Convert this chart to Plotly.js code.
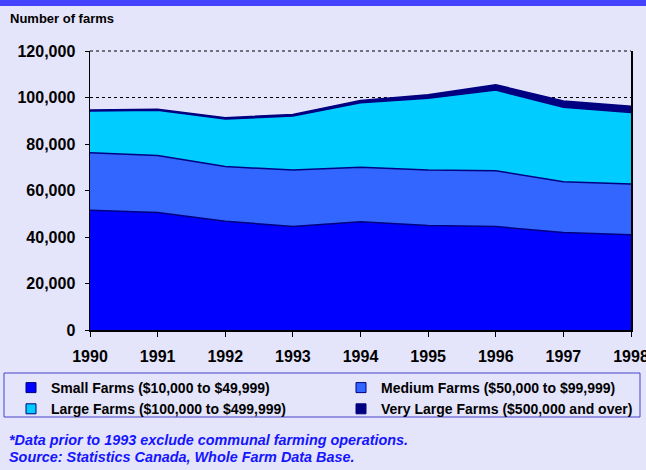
<!DOCTYPE html>
<html><head><meta charset="utf-8">
<script src="https://cdn.plot.ly/plotly-3.0.1.min.js"></script>
<style>html,body{margin:0;padding:0;background:#E4E4FA;}#chart{width:646px;height:470px;}</style>
</head><body><div id="chart"></div>
<script>
const years = [1990, 1991, 1992, 1993, 1994, 1995, 1996, 1997, 1998];
const small = [51500, 50500, 46800, 44500, 46600, 44900, 44500, 41900, 41000];
const medium = [24700, 24600, 23500, 24300, 23400, 23900, 24000, 21900, 21800];
const large = [18000, 19400, 20400, 23200, 27700, 30900, 34700, 32000, 30700];
const veryLarge = [400, 500, 600, 700, 1000, 1500, 2300, 2700, 2700];
const seriesNames = ["Small Farms ($10,000 to $49,999)", "Medium Farms ($50,000 to $99,999)",
  "Large Farms ($100,000 to $499,999)", "Very Large Farms ($500,000 and over)"];
const seriesColors = ["#0000FF", "#3366FF", "#00CCFF", "#000080"];
const seriesValues = [small, medium, large, veryLarge];
const legendColumn = ["legend", "legend2", "legend", "legend2"];
const yTicks = [0, 20000, 40000, 60000, 80000, 100000, 120000];

const navy = "#000080";
const traces = [];
seriesValues.forEach((vals, i) => {
  traces.push({
    x: years, y: vals, type: "scatter", mode: "lines", stackgroup: "one",
    fillcolor: seriesColors[i], line: {color: navy, width: 1.5},
    name: seriesNames[i], showlegend: false, hoverinfo: "skip"
  });
});
seriesValues.forEach((vals, i) => {
  traces.push({
    x: [null], y: [null], type: "scatter", mode: "markers",
    marker: {symbol: "square", size: 10, color: seriesColors[i], line: {color: navy, width: 1}},
    name: seriesNames[i], showlegend: true, legend: legendColumn[i]
  });
});

const W = 646, H = 470, L = 90, R = 631, T = 51, B = 330;
const px = v => (v - L) / (R - L);
const py = v => (B - v) / (B - T);
const font = "Liberation Sans, Arial, sans-serif";
const legendBase = {
  orientation: "v", xanchor: "left", yanchor: "top", traceorder: "normal",
  itemwidth: 30, tracegroupgap: 0, bgcolor: "rgba(0,0,0,0)", borderwidth: 0,
  font: {size: 14, family: font, weight: "bold", color: "#000"}
};

const layout = {
  width: W, height: H,
  margin: {l: L, r: W - R, t: T, b: H - B, autoexpand: false},
  paper_bgcolor: "#E4E4FA", plot_bgcolor: "#E4E4FA",
  font: {family: font, color: "#000000"},
  title: {text: "<b>Number of farms</b>", font: {size: 13, family: font, color: "#000"},
    x: 10 / W, xanchor: "left", y: 1 - 18 / H, yanchor: "middle", xref: "container", yref: "container"},
  xaxis: {range: [1990, 1998], tickvals: years, ticktext: years.map(String),
    showgrid: false, zeroline: false, showline: true, linecolor: "#000", linewidth: 1.5,
    ticks: "outside", ticklen: 5, tickcolor: "#000", tickwidth: 1,
    ticklabelstandoff: 6, ticklabeloverflow: "allow",
    tickfont: {size: 16, family: font, weight: "bold", color: "#000"}},
  yaxis: {range: [0, 120000], tickvals: yTicks, tickformat: ",",
    showgrid: true, gridcolor: "#000", gridwidth: 1, griddash: "dot",
    zeroline: false, showline: true, mirror: true, linecolor: "#000", linewidth: 1.5,
    ticks: "outside", ticklen: 4, tickcolor: "#000", tickwidth: 1,
    ticklabelstandoff: 6,
    tickfont: {size: 16, family: font, weight: "bold", color: "#000"}},
  showlegend: true,
  legend: Object.assign({}, legendBase, {x: px(11), y: py(372)}),
  legend2: Object.assign({}, legendBase, {x: px(341), y: py(372)}),
  shapes: [
    {type: "rect", xref: "paper", yref: "paper", x0: px(-10), x1: px(700), y0: py(0), y1: py(6),
      fillcolor: "#4444FF", line: {width: 0}},
    {type: "line", xref: "paper", yref: "paper", x0: 0, x1: 1, y0: 1, y1: 1,
      line: {color: "#000", width: 1, dash: "dot"}},
    {type: "rect", xref: "paper", yref: "paper", x0: px(4), x1: px(640), y0: py(373), y1: py(417),
      fillcolor: "rgba(0,0,0,0)", line: {color: "#4444CC", width: 1}}
  ],
  annotations: [
    {xref: "paper", yref: "paper", x: px(7), y: py(440), xanchor: "left", yanchor: "middle",
      showarrow: false, text: "<b><i>*Data prior to 1993 exclude communal farming operations.</i></b>",
      font: {size: 14.4, family: font, color: "#1515FF"}},
    {xref: "paper", yref: "paper", x: px(7), y: py(457), xanchor: "left", yanchor: "middle",
      showarrow: false, text: "<b><i>Source: Statistics Canada, Whole Farm Data Base.</i></b>",
      font: {size: 14.4, family: font, color: "#1515FF"}}
  ]
};
Plotly.newPlot("chart", traces, layout, {displayModeBar: false, staticPlot: true});
</script></body></html>
